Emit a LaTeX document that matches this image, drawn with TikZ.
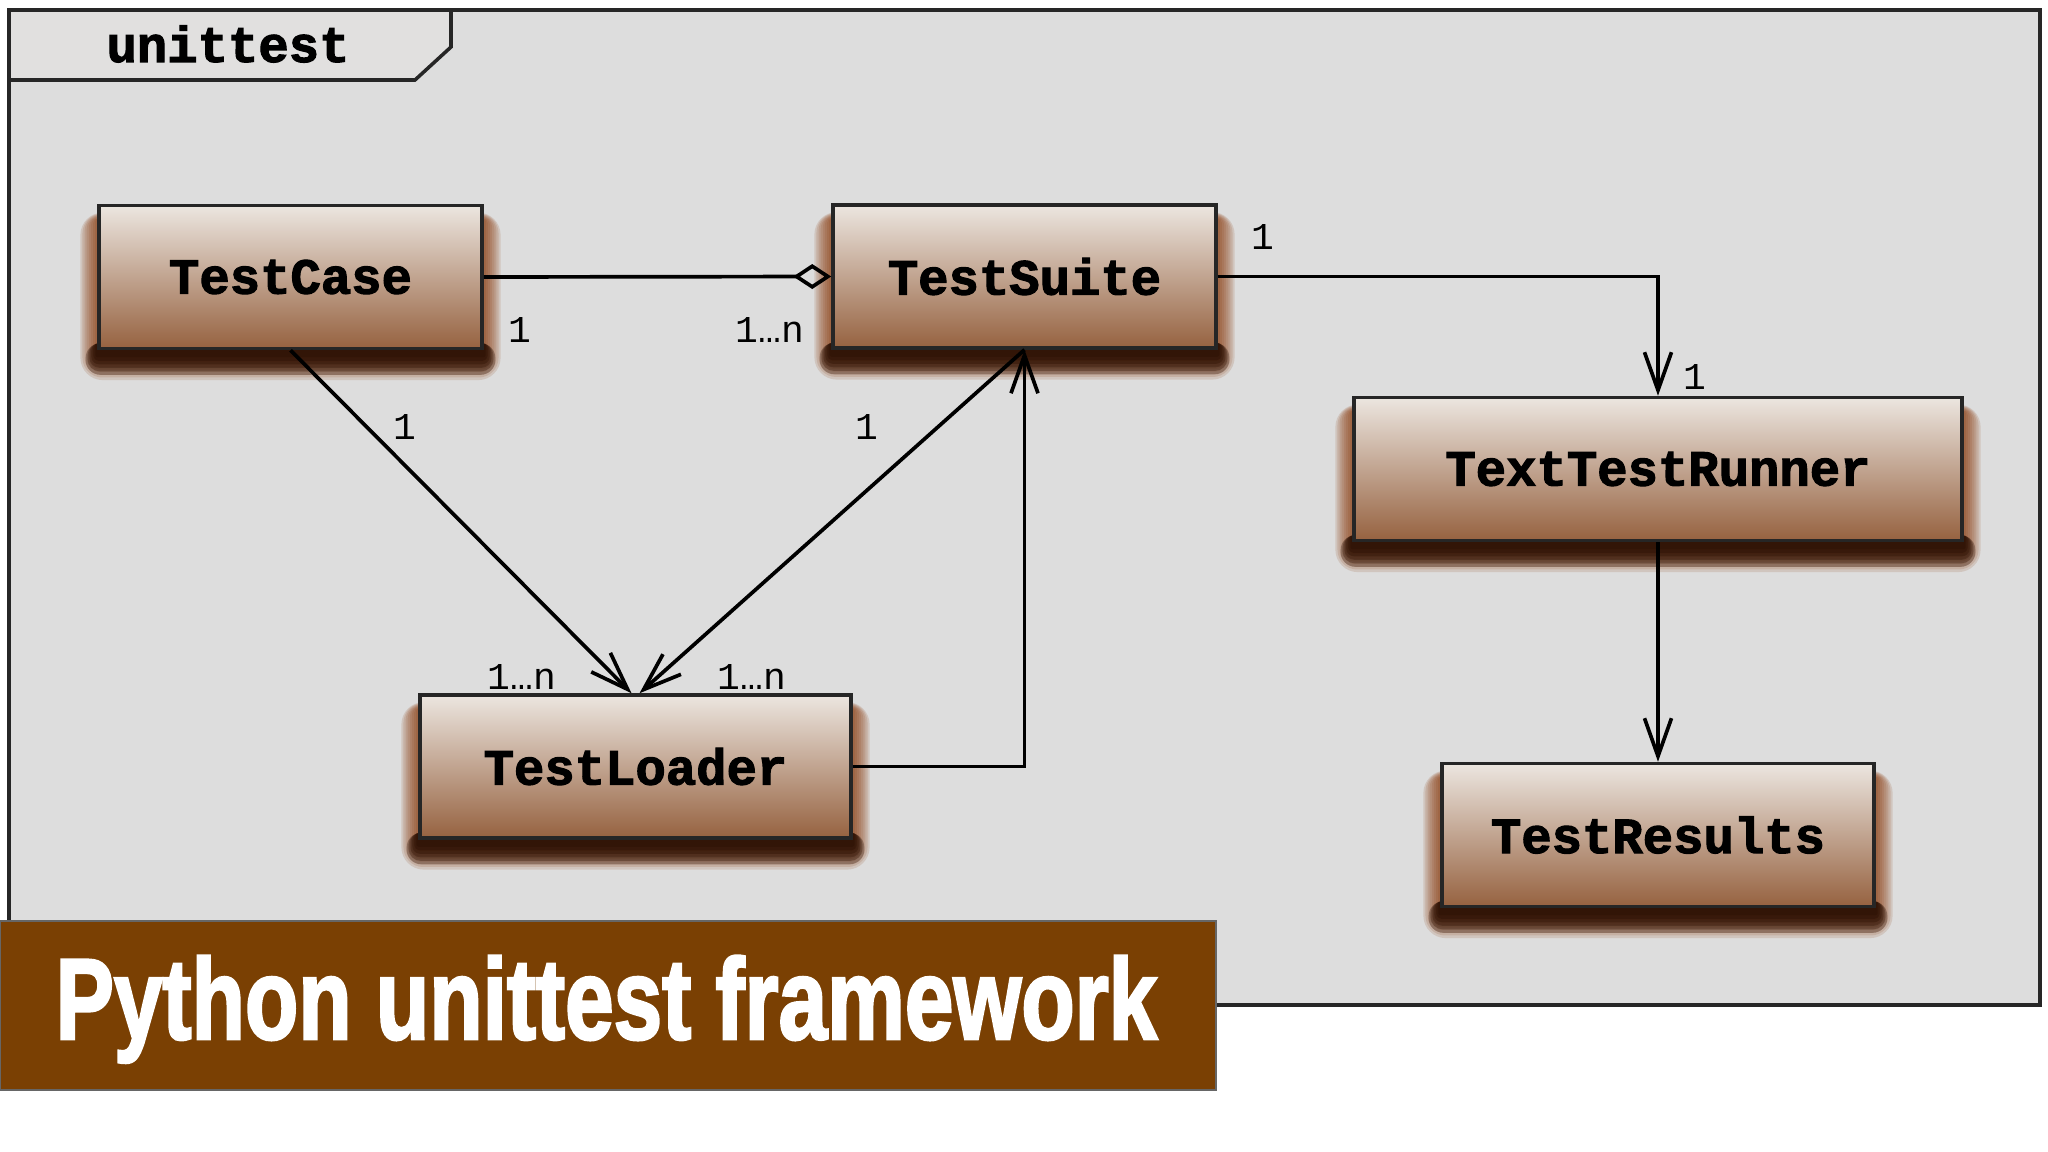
\documentclass[tikz,border=0pt]{standalone}
\usepackage{fontspec}
\usepackage{graphicx}
\usetikzlibrary{arrows.meta,backgrounds}

\newfontfamily\classfont[FakeBold=2.2]{Liberation Mono Bold}
\newfontfamily\multfont{Liberation Mono}
\newfontfamily\bannerfont[FakeBold=2.5]{Liberation Sans Bold}

\definecolor{framebg}{RGB}{221,221,221}
\definecolor{tabbg}{RGB}{225,224,223}
\definecolor{boxtop}{RGB}{236,230,224}
\definecolor{boxmid}{RGB}{200,156,124}
\definecolor{boxbot}{RGB}{150,98,64}
\definecolor{halo}{RGB}{140,60,15}
\definecolor{shadowcore}{RGB}{38,12,0}
\definecolor{bannerbrown}{RGB}{122,64,3}

\tikzset{
    classbox/.style={draw=black!85, line width=1pt, top color=boxtop, middle color=boxmid,
        bottom color=boxbot, font=\classfont\fontsize{14.4}{16}\selectfont, inner sep=0pt,
        minimum height=1.43cm},
    mult/.style={font=\multfont\fontsize{10.8}{12}\selectfont, inner sep=0pt},
    assoc/.style={line width=1.05pt, -{Straight Barb[length=0.38cm,width=0.27cm]}},
    aggr/.style={line width=1.05pt, -{Diamond[open,length=0.38cm,width=0.25cm]}},
    frameline/.style={line width=1pt, draw=black!85}
}

\newcommand\classshadow[1]{%
    \foreach \k [evaluate=\k as \dx using \k*0.6, evaluate=\k as \dy using 2.5+\k*0.75,
                 evaluate=\k as \dn using 4.5-\k*0.25, evaluate=\k as \rc using \k*0.8] in {1,...,8}{
        \fill[halo, opacity=0.15, rounded corners=\rc pt]
            ([xshift=-\dx pt, yshift=-\dy pt]#1.south west) rectangle ([xshift=\dx pt, yshift=-\dn pt]#1.north east);
    }
    \foreach \k [evaluate=\k as \dx using \k*0.55, evaluate=\k as \dy using 1+\k*1.0,
                 evaluate=\k as \rc using \k*0.7] in {1,...,6}{
        \fill[shadowcore, opacity=0.3, rounded corners=\rc pt]
            ([xshift=-\dx pt, yshift=-\dy pt]#1.south west) rectangle ([xshift=\dx pt, yshift=2pt]#1.south east);
    }
}

\begin{document}
\begin{tikzpicture}
    \useasboundingbox (0,0) rectangle (20.48,-11.52);

    \node[classbox, minimum width=3.83cm] (TC) at (2.905,-2.77) {TestCase};
    \node[classbox, minimum width=3.83cm] (TS) at (10.245,-2.765) {TestSuite};
    \node[classbox, minimum width=4.31cm] (TL) at (6.355,-7.665) {TestLoader};
    \node[classbox, minimum width=6.08cm] (TTR) at (16.58,-4.69) {TextTestRunner};
    \node[classbox, minimum width=4.32cm] (TR) at (16.58,-8.35) {TestResults};

    \begin{scope}[on background layer]
        \fill[white] (0,0) rectangle (20.48,-11.52);
        \fill[framebg] (0.09,-0.10) rectangle (20.40,-10.05);
        \fill[tabbg] (0.09,-0.10) -- (0.09,-0.80) -- (4.15,-0.80) -- (4.51,-0.47) -- (4.51,-0.10) -- cycle;
        \foreach \n in {TC,TS,TL,TTR,TR} {\classshadow{\n}}
    \end{scope}

    \draw[frameline] (0.09,-0.10) rectangle (20.40,-10.05);
    \draw[frameline] (0.09,-0.80) -- (4.15,-0.80) -- (4.51,-0.47) -- (4.51,-0.10);
    \node[font=\classfont\fontsize{14.4}{16}\selectfont, anchor=base] (pkg) at (2.28,-0.62) {unittest};

    \draw[aggr] (TC.east) to (TS.west);
    \draw[assoc] (TS.east) -| (TTR.north);
    \draw[assoc] (TC.south) to ([xshift=-0.04cm]TL.north);
    \draw[assoc] (TS.south) to ([xshift=0.04cm]TL.north);
    \draw[assoc] (TL.east) -| (TS.south);
    \draw[assoc] (TTR.south) to (TR.north);

    \node[mult] (m1) at (5.20,-3.30) {1};
    \node[mult] (m2) at (7.70,-3.30) {1…n};
    \node[mult] (m3) at (12.63,-2.37) {1};
    \node[mult] (m4) at (16.95,-3.77) {1};
    \node[mult] (m5) at (4.05,-4.27) {1};
    \node[mult] (m6) at (8.67,-4.27) {1};
    \node[mult] (m7) at (5.22,-6.77) {1…n};
    \node[mult] (m8) at (7.52,-6.77) {1…n};

    \fill[bannerbrown, draw=black!60, line width=0.4pt] (0,-9.21) rectangle (12.16,-10.90);
    \node[anchor=base west, inner sep=0pt, text=white, font=\bannerfont\fontsize{32.7}{36}\selectfont]
        (title) at (0.55,-10.39) {\scalebox{0.76}[1]{Python unittest framework}};
\end{tikzpicture}
\end{document}
